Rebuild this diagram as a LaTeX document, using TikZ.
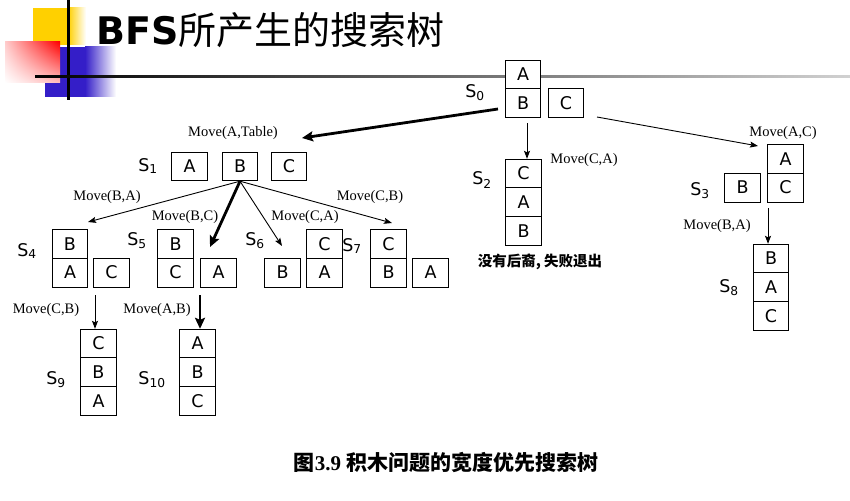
\documentclass[tikz,border=0pt]{standalone}
\usepackage{fontspec}
\setmainfont{Liberation Serif}
\newfontfamily\blkfont{DejaVu Sans}
\newfontfamily\cjk{Noto Sans CJK SC}
\usetikzlibrary{arrows.meta,shadings}
\definecolor{gold}{RGB}{255,208,0}
\definecolor{ink}{RGB}{52,30,200}
\tikzset{
  blk/.style={draw,fill=white,line width=0.8pt,minimum width=35.5pt,
    minimum height=28.6pt,inner sep=0pt,font=\blkfont\fontsize{17.5}{17.5}\selectfont},
  sname/.style={inner sep=0pt,font=\blkfont\fontsize{17.5}{17.5}\selectfont},
  mv/.style={inner sep=0pt,font=\fontsize{14.5}{14.5}\selectfont},
  thin/.style={line width=0.9pt,-{Stealth[length=8pt,width=6pt,inset=1.5pt]}},
  thick/.style={line width=2.8pt,-{Stealth[length=11pt,width=10pt,inset=2pt]}}}
\begin{document}
\begin{tikzpicture}[x=1pt,y=-1pt]
\useasboundingbox (0,0) rectangle (850,500);
\fill[gold] (33,8) rectangle (68,45);
\shade[left color=gold,right color=white] (68,8) rectangle (86,45);
\fill[ink] (45,47) rectangle (85,97);
\shade[left color=ink,right color=white] (85,47) rectangle (116,97);
\shade[upper left=red!20,upper right=red,lower left=white,lower right=red!25]
  (5,42) rectangle (60,83);
\fill[black] (67,0) rectangle (69.5,100);
\shade[left color=black,right color=black!18] (35,75.5) rectangle (850,77.5);
\node[anchor=west,inner sep=0pt] (title) at (96,30)
  {\fontsize{38}{38}\selectfont{\blkfont\bfseries BFS}{\cjk 所产生的搜索树}};
\foreach \x/\y/\texn/\n in {
    523/74.3/A/s0a, 523/102.9/B/s0b, 566/102.9/C/s0c,
    189.5/166.5/A/s1a, 240/166.5/B/s1b, 289/166.5/C/s1c,
    523.5/173.5/C/s2c, 523.5/202.1/A/s2a, 523.5/230.7/B/s2b,
    785.5/159/A/s3a, 785.5/187.6/C/s3c, 742.5/187.6/B/s3b,
    70/244/B/s4b, 70/272.6/A/s4a, 111.5/272.6/C/s4c,
    175.5/244/B/s5b, 175.5/272.6/C/s5c, 218.5/272.6/A/s5a,
    282.5/272.6/B/s6b, 324.5/244/C/s6c, 324.5/272.6/A/s6a,
    388.5/244/C/s7c, 388.5/272.6/B/s7b, 430.5/272.6/A/s7a,
    771/258.5/B/s8b, 771/287.1/A/s8a, 771/315.7/C/s8c,
    98.5/343.5/C/s9c, 98.5/372.1/B/s9b, 98.5/400.7/A/s9a,
    197.5/343.5/A/s10a, 197.5/372.1/B/s10b, 197.5/400.7/C/s10c}
  \path (\x,\y) node[blk](\n){\texn};
\foreach \x/\y/\k in {475/93/0, 148/166/1, 482/180/2, 700/191/3,
    27/251/4, 137/241/5, 255/241/6, 352/246/7, 729/288/8, 56/380/9, 152/380/10}
  \path (\x,\y) node[sname](l\k){S\textsubscript{\k}};
\foreach \x/\y/\texn [count=\i] in {233/133/{A,Table}, 107/197/{B,A},
    185/217/{B,C}, 305/217/{C,A}, 370/197/{C,B}, 584/160/{C,A},
    783/133/{A,C}, 717/226/{B,A}, 46/310/{C,B}, 157/310/{A,B}}
  \path (\x,\y) node[mv](mv\i){Move(\texn)};
\foreach \x/\y/\n in {498/109/p0, 302/138/p1, 527/123/p2, 597/117/p3,
    758/146/p4, 88/222/p5, 210/247/p6, 282/246/p7, 392/223/p8,
    768/208/p9, 95/295/p10, 200/295/p11}
  \coordinate (\n) at (\x,\y);
\draw[thick] (p0)--(p1);
\draw[thin] (p2)--(p2 |- s2c.north);
\draw[thin] (p3)--(p4);
\draw[thin] (s1b.south)--(p5);
\draw[thick] (s1b.south)--(p6);
\draw[thin] (s1b.south)--(p7);
\draw[thin] (s1b.south)--(p8);
\draw[thin] (p9)--(p9 |- s8b.north);
\draw[thin] (p10)--(p10 |- s9c.north);
\draw[thick] (p11)--(p11 |- s10a.north);
\node[font=\cjk\bfseries\fontsize{14.5}{14.5}\selectfont] (note) at (540,262)
  {没有后裔, 失败退出};
\node[font=\fontsize{21}{21}\selectfont\bfseries] (caption) at (446,462)
  {{\cjk 图}3.9 {\cjk 积木问题的宽度优先搜索树}};
\end{tikzpicture}
\end{document}
